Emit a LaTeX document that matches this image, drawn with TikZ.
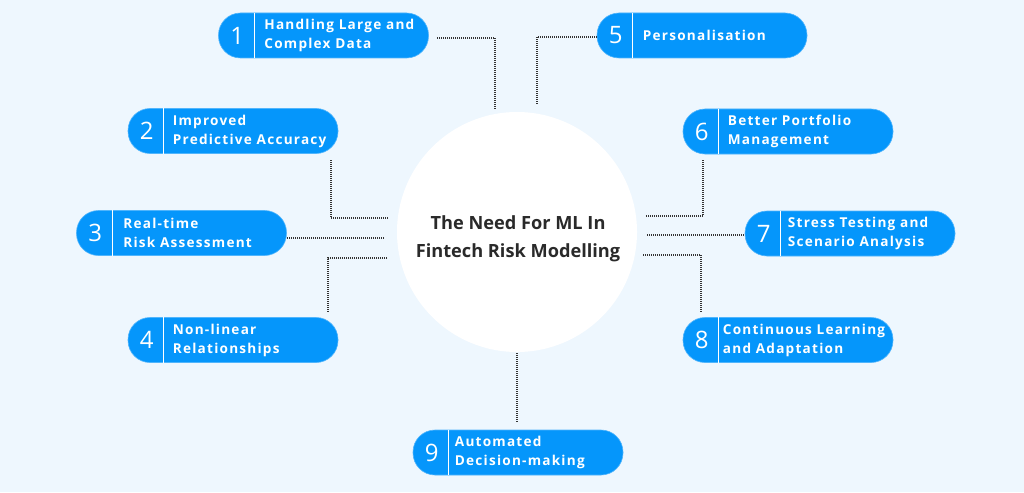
\documentclass[tikz,border=0pt]{standalone}
\usepackage{fontspec}
\setmainfont{Open Sans}
\newfontfamily\pillfont[LetterSpace=9]{Open Sans}
\newfontfamily\titlefont{Open Sans}
\definecolor{bgc}{HTML}{EEF7FE}
\definecolor{pillblue}{HTML}{0596FB}
\definecolor{dotc}{HTML}{333333}
\definecolor{titlec}{HTML}{2A2A2A}
\newcommand\pillat[6]{%
  \node[pill] (#1) at (#2,#3) {};
  \draw[white, line width=1.3pt] ([xshift=36pt]#1.north west) -- ([xshift=36pt]#1.south west);
  \node[numtxt] (#1n) at ([xshift=19pt]#1.west) {#4};
  \node[pilltxt] (#1t) at ([xshift=#6]#1.west) {#5};
}
\begin{document}
\begin{tikzpicture}[x=1pt,y=-1pt,
  pill/.style={fill=pillblue, draw=pillblue!70!white, line width=0.6pt, rounded corners=22pt, minimum width=210pt, minimum height=45pt, inner sep=0pt},
  numtxt/.style={text=white, font=\titlefont\fontsize{24}{26}\selectfont, inner sep=0pt},
  pilltxt/.style={text=white, anchor=west, align=left, inner sep=0pt, font=\pillfont\bfseries\fontsize{13.6}{19}\selectfont},
  dotline/.style={draw=dotc, line width=1.6pt, dash pattern=on 1pt off 1pt},
  hub/.style={circle, fill=white, minimum size=240pt, inner sep=0pt},
  title/.style={align=center, text=titlec, inner sep=0pt, font=\titlefont\bfseries\fontsize{18.2}{28}\selectfont}
]
\fill[bgc] (0,0) rectangle (1024,492);
\useasboundingbox (0,0) rectangle (1024,492);

\node[hub] (hub) at (517,232) {};
\node[title] (title) at (518,239) {The Need For ML In\\Fintech Risk Modelling};

\pillat{p1}{323.5}{35.5}{1}{Handling Large and\\Complex Data}{46pt}
\pillat{p5}{702}{35.5}{5}{Personalisation}{46pt}
\pillat{p2}{233}{131}{2}{Improved\\Predictive Accuracy}{45pt}
\pillat{p3}{181.5}{233}{3}{Real-time\\Risk Assessment}{47pt}
\pillat{p4}{233}{340}{4}{Non-linear\\Relationships}{45pt}
\pillat{p6}{788}{131.5}{6}{Better Portfolio\\Management}{45pt}
\pillat{p7}{850}{233.5}{7}{Stress Testing and\\Scenario Analysis}{43pt}
\pillat{p8}{788}{340}{8}{Continuous Learning\\and Adaptation}{40pt}
\pillat{p9}{518}{452.5}{9}{Automated\\Decision-making}{42pt}

% connector end points
\coordinate (s1) at (437,38);  \coordinate (e1) at (495,110);
\coordinate (e5) at (537,105);
\coordinate (s2) at (331,160); \coordinate (e2) at (388,218);
\coordinate (s3) at (287,238); \coordinate (e3) at (385,238);
\coordinate (e4s) at (387,258); \coordinate (e4) at (328,312);
\coordinate (s6) at (703,160); \coordinate (e6) at (645,216);
\coordinate (s7) at (647,235);
\coordinate (e8s) at (643,255); \coordinate (e8) at (701,312);
\coordinate (s9) at (517,353); \coordinate (e9) at (517,423);

\draw[dotline] (s1) -| (e1);
\draw[dotline] (p5.west |- 0,37) -| (e5);
\draw[dotline] (s2) |- (e2);
\draw[dotline] (s3) -- (e3);
\draw[dotline] (e4s) -| (e4);
\draw[dotline] (s6) |- (e6);
\draw[dotline] (s7) -- (p7.west |- s7);
\draw[dotline] (e8s) -| (e8);
\draw[dotline] (s9) -- (e9);
\end{tikzpicture}
\end{document}
